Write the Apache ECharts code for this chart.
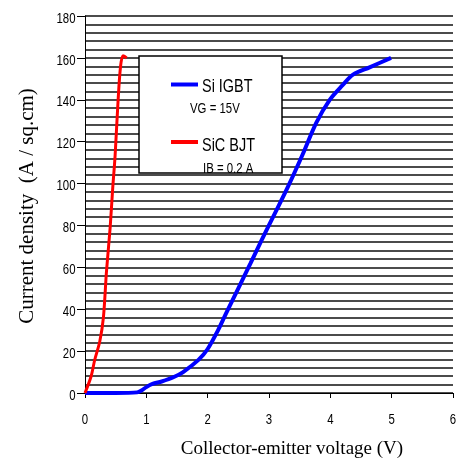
<!DOCTYPE html>
<html>
<head>
<meta charset="utf-8">
<script src="https://cdn.jsdelivr.net/npm/echarts@6/dist/echarts.min.js"></script>
<style>
html,body{margin:0;padding:0;background:#fff;}
#chart{width:456px;height:463px;}
</style>
</head>
<body>
<div id="chart"></div>
<script>
// Si IGBT (VG = 15V)
const igbtV = [0, 0.5, 0.85, 0.92, 1.0, 1.1, 1.25, 1.44, 1.6, 1.85, 2.0, 2.17, 2.3, 2.5, 2.7, 2.88, 3.1, 3.31, 3.55, 3.77, 3.99, 4.2, 4.37, 4.64, 4.99];
const igbtJ = [0, 0, 0.3, 1.2, 2.8, 4.3, 5.5, 7.5, 10, 15.8, 21, 30, 38, 50, 62, 73, 86, 98.5, 114, 129, 140, 147, 152, 155.5, 160];
// SiC BJT (IB = 0.2 A)
const bjtV = [0, 0.1, 0.16, 0.24, 0.3, 0.35, 0.41, 0.45, 0.49, 0.54, 0.58, 0.62, 0.68];
const bjtJ = [0, 8, 16, 24.5, 36, 58, 79, 97, 113, 140, 156, 161, 160];
const seriesNames = ['Si IGBT', 'SiC BJT'];
const seriesSubs = ['VG = 15V', 'IB = 0.2 A'];
const seriesColors = ['#0000ff', '#ff0000'];
const xTicks = [0, 1, 2, 3, 4, 5, 6];
const yTicks = [0, 20, 40, 60, 80, 100, 120, 140, 160, 180];
const xTitle = 'Collector-emitter voltage (V)';
const yTitle = 'Current density  (A / sq.cm)';

const zip = (a, b) => a.map((v, i) => [v, b[i]]);
const sans = '"Liberation Sans", Arial, sans-serif';
const serif = '"Liberation Serif", "Times New Roman", serif';
const NARROW = 0.76;

const chart = echarts.init(document.getElementById('chart'));
const baseGraphic = [
  { type: 'rect', z: 10, shape: { x: 139, y: 56, width: 143, height: 117 },
    style: { fill: '#fff', stroke: '#000', lineWidth: 1.5 } },
  { type: 'line', z: 15, shape: { x1: 171, y1: 84.5, x2: 198, y2: 84.5 },
    style: { stroke: seriesColors[0], lineWidth: 4 } },
  { type: 'line', z: 15, shape: { x1: 171, y1: 142, x2: 198, y2: 142 },
    style: { stroke: seriesColors[1], lineWidth: 4 } },
  { type: 'text', z: 15, x: 202, y: 87, scaleX: NARROW,
    style: { text: seriesNames[0], fill: '#000', font: '19px ' + sans, textVerticalAlign: 'middle' } },
  { type: 'text', z: 15, x: 190, y: 108.7, scaleX: NARROW,
    style: { text: seriesSubs[0], fill: '#000', font: '15px ' + sans, textVerticalAlign: 'middle' } },
  { type: 'text', z: 15, x: 202, y: 146, scaleX: NARROW,
    style: { text: seriesNames[1], fill: '#000', font: '19px ' + sans, textVerticalAlign: 'middle' } },
  { type: 'text', z: 15, x: 203, y: 168.5, scaleX: NARROW,
    style: { text: seriesSubs[1], fill: '#000', font: '15px ' + sans, textVerticalAlign: 'middle' } },
  { type: 'text', z: 15, x: 292, y: 449,
    style: { text: xTitle, fill: '#000', font: '19px ' + serif, textAlign: 'center', textVerticalAlign: 'middle' } },
  { type: 'text', z: 15, x: 27, y: 206, rotation: Math.PI / 2,
    style: { text: yTitle, fill: '#000', font: '21px ' + serif, textAlign: 'center', textVerticalAlign: 'middle' } }
];

chart.setOption({
  animation: false,
  backgroundColor: '#fff',
  grid: { left: 85, right: 3, top: 16, bottom: 70, containLabel: false },
  xAxis: {
    type: 'value', min: 0, max: 6, interval: 1,
    axisLine: { show: true, lineStyle: { color: '#000', width: 1 } },
    axisTick: { show: true, length: 5, lineStyle: { color: '#000' } },
    axisLabel: { show: false },
    splitLine: { show: false }
  },
  yAxis: {
    type: 'value', min: 0, max: 180, interval: 20,
    axisLine: { show: true, lineStyle: { color: '#000', width: 1 } },
    axisTick: { show: true, length: 8, lineStyle: { color: '#000' } },
    axisLabel: { show: false },
    splitLine: { show: true, lineStyle: { color: '#111', width: 1.5 } },
    minorTick: { show: false, splitNumber: 5 },
    minorSplitLine: { show: true, lineStyle: { color: '#111', width: 1.5 } }
  },
  graphic: baseGraphic,
  series: [
    { name: seriesNames[0], type: 'line', data: zip(igbtV, igbtJ), showSymbol: false, smooth: 0.3,
      color: seriesColors[0], lineStyle: { color: seriesColors[0], width: 4 }, z: 5 },
    { name: seriesNames[1], type: 'line', data: zip(bjtV, bjtJ), showSymbol: false, smooth: 0.3,
      color: seriesColors[1], lineStyle: { color: seriesColors[1], width: 3 }, z: 5 }
  ]
});

// Tick labels placed through the chart's own scales (narrow, tall lettering as in the reference)
const tickLabels = [];
xTicks.forEach(v => {
  const p = chart.convertToPixel({ gridIndex: 0 }, [v, 0]);
  tickLabels.push({ type: 'text', z: 15, x: p[0], y: p[1] + 27, scaleX: NARROW,
    style: { text: String(v), fill: '#000', font: '15px ' + sans, textAlign: 'center', textVerticalAlign: 'middle' } });
});
yTicks.forEach(v => {
  const p = chart.convertToPixel({ gridIndex: 0 }, [0, v]);
  tickLabels.push({ type: 'text', z: 15, x: p[0] - 9.5, y: p[1] + 2.5, scaleX: NARROW,
    style: { text: String(v), fill: '#000', font: '15px ' + sans, textAlign: 'right', textVerticalAlign: 'middle' } });
});
chart.setOption({ graphic: baseGraphic.concat(tickLabels) });
</script>
</body>
</html>
